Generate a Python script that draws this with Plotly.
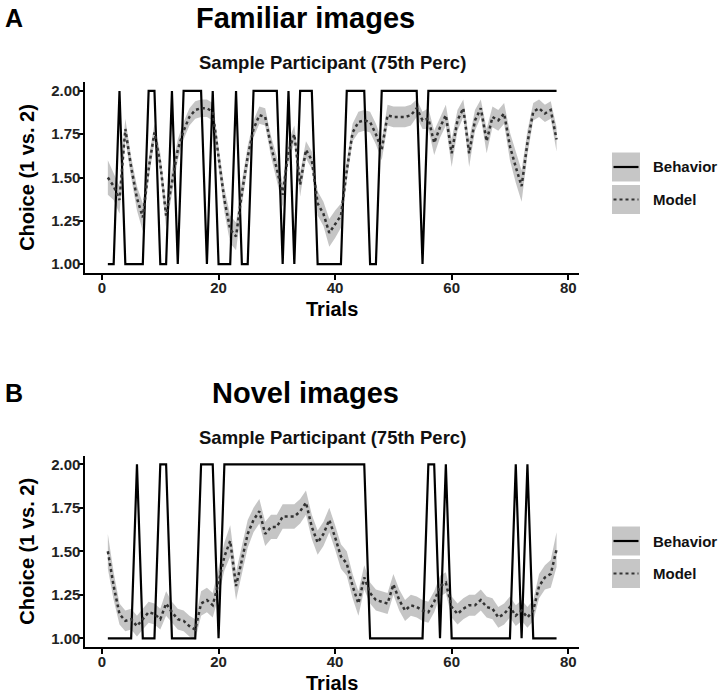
import plotly.graph_objects as go

trials = list(range(1, 79))

fam_behavior = [1, 1, 2, 1, 1, 1, 1, 2, 2, 1,
                1, 2, 1, 2, 2, 2, 2, 1, 2, 1,
                1, 1, 2, 1, 1, 2, 2, 2, 2, 2,
                1, 2, 1, 2, 2, 2, 1, 1, 1, 1,
                1, 2, 2, 2, 2, 1, 1, 2, 2, 2,
                2, 2, 2, 2, 1, 2, 2, 2, 2, 2,
                2, 2, 2, 2, 2, 2, 2, 2, 2, 2,
                2, 2, 2, 2, 2, 2, 2, 2]
fam_model = [1.50, 1.45, 1.37, 1.78, 1.56, 1.38, 1.27, 1.55, 1.76, 1.58,
             1.28, 1.48, 1.66, 1.77, 1.85, 1.89, 1.90, 1.90, 1.88, 1.62,
             1.37, 1.20, 1.16, 1.41, 1.62, 1.78, 1.86, 1.85, 1.68, 1.55,
             1.40, 1.65, 1.75, 1.46, 1.66, 1.60, 1.35, 1.29, 1.18, 1.23,
             1.28, 1.54, 1.76, 1.82, 1.83, 1.82, 1.75, 1.66, 1.86, 1.85,
             1.85, 1.85, 1.86, 1.90, 1.83, 1.84, 1.70, 1.79, 1.86, 1.64,
             1.83, 1.90, 1.64, 1.83, 1.90, 1.71, 1.85, 1.83, 1.87, 1.68,
             1.56, 1.45, 1.70, 1.88, 1.90, 1.87, 1.89, 1.72]
fam_halfwidth = [0.10, 0.08, 0.08, 0.06, 0.06, 0.07, 0.08, 0.06, 0.05, 0.06,
                 0.07, 0.07, 0.06, 0.05, 0.05, 0.05, 0.05, 0.05, 0.05, 0.06,
                 0.07, 0.08, 0.08, 0.07, 0.06, 0.05, 0.05, 0.05, 0.06, 0.07,
                 0.07, 0.06, 0.05, 0.07, 0.05, 0.05, 0.07, 0.07, 0.08, 0.08,
                 0.07, 0.06, 0.05, 0.06, 0.06, 0.06, 0.06, 0.06, 0.06, 0.06,
                 0.06, 0.06, 0.06, 0.05, 0.05, 0.06, 0.07, 0.06, 0.06, 0.08,
                 0.06, 0.05, 0.08, 0.06, 0.05, 0.07, 0.06, 0.06, 0.06, 0.08,
                 0.09, 0.09, 0.07, 0.05, 0.05, 0.05, 0.05, 0.07]

nov_behavior = [1, 1, 1, 1, 1, 2, 1, 1, 1, 2,
                2, 1, 1, 1, 1, 1, 2, 2, 2, 1,
                2, 2, 2, 2, 2, 2, 2, 2, 2, 2,
                2, 2, 2, 2, 2, 2, 2, 2, 2, 2,
                2, 2, 2, 2, 2, 1, 1, 1, 1, 1,
                1, 1, 1, 1, 1, 2, 2, 1, 2, 1,
                1, 1, 1, 1, 1, 1, 1, 1, 1, 1,
                2, 1, 2, 1, 1, 1, 1, 1]
nov_model = [1.50, 1.30, 1.14, 1.10, 1.11, 1.07, 1.11, 1.15, 1.14, 1.11,
             1.20, 1.15, 1.11, 1.10, 1.07, 1.05, 1.20, 1.22, 1.19, 1.32,
             1.47, 1.56, 1.30, 1.45, 1.60, 1.68, 1.73, 1.60, 1.64, 1.64,
             1.70, 1.70, 1.70, 1.73, 1.78, 1.64, 1.55, 1.60, 1.68, 1.58,
             1.47, 1.43, 1.30, 1.20, 1.35, 1.26, 1.22, 1.21, 1.20, 1.31,
             1.22, 1.16, 1.19, 1.18, 1.16, 1.15, 1.21, 1.30, 1.32, 1.18,
             1.14, 1.17, 1.19, 1.19, 1.22, 1.18, 1.17, 1.12, 1.14, 1.18,
             1.13, 1.16, 1.12, 1.16, 1.30, 1.35, 1.37, 1.51]
nov_halfwidth = [0.10, 0.08, 0.06, 0.06, 0.06, 0.06, 0.06, 0.06, 0.06, 0.06,
                 0.07, 0.06, 0.06, 0.06, 0.06, 0.06, 0.07, 0.07, 0.07, 0.08,
                 0.08, 0.09, 0.08, 0.08, 0.08, 0.07, 0.07, 0.07, 0.07, 0.07,
                 0.07, 0.07, 0.07, 0.07, 0.07, 0.07, 0.07, 0.07, 0.07, 0.07,
                 0.07, 0.07, 0.07, 0.07, 0.07, 0.06, 0.06, 0.06, 0.06, 0.06,
                 0.06, 0.06, 0.06, 0.06, 0.06, 0.06, 0.06, 0.06, 0.06, 0.06,
                 0.06, 0.06, 0.06, 0.06, 0.06, 0.06, 0.06, 0.06, 0.06, 0.06,
                 0.06, 0.06, 0.06, 0.06, 0.07, 0.07, 0.08, 0.10]

panel_titles = ["Familiar images", "Novel images"]
panel_letters = ["A", "B"]
subtitle = "Sample Participant (75th Perc)"
x_title = "Trials"
y_title = "Choice (1 vs. 2)"
x_ticks = [0, 20, 40, 60, 80]
y_ticks = [1.00, 1.25, 1.50, 1.75, 2.00]
legend_labels = ["Behavior", "Model"]

W, H = 720, 698
FONT = "Liberation Sans, Arial, Helvetica, sans-serif"
BAND = "rgba(140,140,140,0.5)"
MODEL_COLOR = "#333333"
MODEL_DASH = "3px,3px"


def px(x):
    return x / W


def py(y):
    return 1 - y / H


fig = go.Figure()

panels = [
    dict(beh=fam_behavior, mod=fam_model, hw=fam_halfwidth, xa="x", ya="y",
         top=82.3, bot=272.7, title_y=18, sub_y=62, xt_y=309, leg_y=[167, 199.5]),
    dict(beh=nov_behavior, mod=nov_model, hw=nov_halfwidth, xa="x2", ya="y2",
         top=455.6, bot=647.0, title_y=393, sub_y=437, xt_y=683, leg_y=[541, 573.5]),
]

annotations = []
shapes = []
for i, p in enumerate(panels):
    upper = [m + h for m, h in zip(p["mod"], p["hw"])]
    lower = [m - h for m, h in zip(p["mod"], p["hw"])]
    fig.add_trace(go.Scatter(x=trials, y=upper, mode="lines", line=dict(width=0),
                             showlegend=False, hoverinfo="skip",
                             xaxis=p["xa"], yaxis=p["ya"]))
    fig.add_trace(go.Scatter(x=trials, y=lower, mode="lines", line=dict(width=0),
                             fill="tonexty", fillcolor=BAND, showlegend=False,
                             hoverinfo="skip", xaxis=p["xa"], yaxis=p["ya"]))
    fig.add_trace(go.Scatter(x=trials, y=p["beh"], mode="lines", name=legend_labels[0],
                             line=dict(color="black", width=2.2), showlegend=False,
                             xaxis=p["xa"], yaxis=p["ya"]))
    fig.add_trace(go.Scatter(x=trials, y=p["mod"], mode="lines", name=legend_labels[1],
                             line=dict(color=MODEL_COLOR, width=2.5, dash=MODEL_DASH),
                             showlegend=False, xaxis=p["xa"], yaxis=p["ya"]))

    ax_common = dict(showline=True, linecolor="black", linewidth=2, ticks="outside",
                     ticklen=5, tickwidth=1.5, tickcolor="black", showgrid=False,
                     zeroline=False,
                     tickfont=dict(family=FONT, size=15, color="#222222", weight="bold"),
                     automargin=False)
    xkey = "xaxis" if i == 0 else "xaxis2"
    ykey = "yaxis" if i == 0 else "yaxis2"
    fig.update_layout(**{
        xkey: dict(ax_common, domain=[px(85.4), px(579)], range=[-2.85, 81.85],
                   tickvals=x_ticks, anchor=p["ya"], ticklabelstandoff=-5),
        ykey: dict(ax_common, domain=[py(p["bot"]), py(p["top"])], range=[0.95, 2.05],
                   tickvals=y_ticks, tickformat=".2f", anchor=p["xa"], ticklabelstandoff=-5,
                   title=dict(text="<b>%s</b>" % y_title,
                              font=dict(family=FONT, size=20, color="black"),
                              standoff=11)),
    })

    annotations.append(dict(text="<b>%s</b>" % x_title, x=px(332), y=py(p["xt_y"]),
                            xref="paper", yref="paper", xanchor="center", yanchor="middle",
                            showarrow=False, font=dict(family=FONT, size=20, color="black")))
    annotations.append(dict(text="<b>%s</b>" % panel_letters[i], x=px(3), y=py(p["title_y"]),
                            xref="paper", yref="paper", xanchor="left", yanchor="middle",
                            showarrow=False, font=dict(family=FONT, size=25, color="black")))
    annotations.append(dict(text="<b>%s</b>" % panel_titles[i], x=px(305), y=py(p["title_y"]),
                            xref="paper", yref="paper", xanchor="center", yanchor="middle",
                            showarrow=False, font=dict(family=FONT, size=29, color="black")))
    annotations.append(dict(text="<b>%s</b>" % subtitle, x=px(332), y=py(p["sub_y"]),
                            xref="paper", yref="paper", xanchor="center", yanchor="middle",
                            showarrow=False, font=dict(family=FONT, size=18.5, color="#111111")))

    # legend (ggplot style keys)
    for k, ly in enumerate(p["leg_y"]):
        shapes.append(dict(type="rect", xref="paper", yref="paper",
                           x0=px(612), x1=px(640), y0=py(ly + 14.5), y1=py(ly - 14.5),
                           fillcolor="#c6c6c6", line=dict(width=0), layer="above"))
        shapes.append(dict(type="line", xref="paper", yref="paper",
                           x0=px(613.5), x1=px(638.5), y0=py(ly), y1=py(ly),
                           line=dict(color="black" if k == 0 else MODEL_COLOR, width=2.2,
                                     dash="solid" if k == 0 else MODEL_DASH),
                           layer="above"))
        annotations.append(dict(text="<b>%s</b>" % legend_labels[k], x=px(651), y=py(ly),
                                xref="paper", yref="paper", xanchor="left", yanchor="middle",
                                showarrow=False, font=dict(family=FONT, size=15, color="#111111")))

fig.update_layout(width=W, height=H, margin=dict(l=0, r=0, t=0, b=0),
                  paper_bgcolor="white", plot_bgcolor="white", showlegend=False,
                  annotations=annotations, shapes=shapes)

fig.write_html("out.html")
